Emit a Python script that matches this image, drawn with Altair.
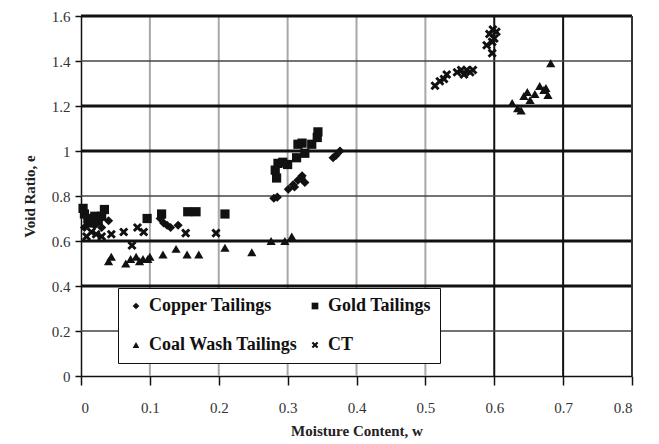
import altair as alt
import pandas as pd

# ---------------- data ----------------
copper_w = [0.005, 0.01, 0.015, 0.02, 0.025, 0.03, 0.04, 0.115, 0.12, 0.125, 0.13, 0.141,
            0.28, 0.285, 0.301, 0.308, 0.31, 0.315, 0.32, 0.321, 0.325, 0.366, 0.37, 0.376]
copper_e = [0.66, 0.68, 0.70, 0.67, 0.69, 0.66, 0.69, 0.70, 0.68, 0.67, 0.66, 0.67,
            0.79, 0.795, 0.83, 0.85, 0.84, 0.87, 0.88, 0.89, 0.86, 0.97, 0.98, 1.0]

gold_w = [0.003, 0.005, 0.01, 0.015, 0.02, 0.025, 0.03, 0.034, 0.096, 0.117, 0.155, 0.167, 0.209,
          0.282, 0.284, 0.286, 0.293, 0.30, 0.313, 0.315, 0.321, 0.325, 0.335, 0.343, 0.344]
gold_e = [0.745, 0.72, 0.70, 0.68, 0.71, 0.69, 0.71, 0.74, 0.70, 0.72, 0.73, 0.73, 0.72,
          0.915, 0.88, 0.945, 0.95, 0.94, 0.97, 1.03, 1.035, 0.99, 1.03, 1.06, 1.085]

coal_w = [0.04, 0.044, 0.065, 0.072, 0.08, 0.085, 0.09, 0.097, 0.10, 0.119, 0.138, 0.154, 0.171,
          0.209, 0.248, 0.276, 0.296, 0.306,
          0.626, 0.634, 0.639, 0.643, 0.648, 0.652, 0.659, 0.666, 0.672, 0.675, 0.678, 0.682]
coal_e = [0.51, 0.53, 0.50, 0.52, 0.53, 0.51, 0.52, 0.52, 0.53, 0.54, 0.565, 0.54, 0.54,
          0.57, 0.55, 0.60, 0.60, 0.62,
          1.213, 1.19, 1.18, 1.244, 1.262, 1.227, 1.253, 1.289, 1.271, 1.28, 1.249, 1.39]

ct_w = [0.008, 0.015, 0.022, 0.03, 0.044, 0.062, 0.074, 0.082, 0.091, 0.152, 0.196,
        0.514, 0.521, 0.527, 0.531, 0.546, 0.552, 0.556, 0.56, 0.565, 0.569,
        0.589, 0.593, 0.597, 0.597, 0.598, 0.60, 0.603]
ct_e = [0.62, 0.64, 0.63, 0.62, 0.63, 0.64, 0.58, 0.66, 0.64, 0.635, 0.635,
        1.29, 1.31, 1.32, 1.34, 1.35, 1.36, 1.34, 1.36, 1.35, 1.36,
        1.47, 1.52, 1.485, 1.435, 1.54, 1.50, 1.53]

# legend is filled column by column: Copper / Coal Wash in column 1, Gold / CT in column 2
series_names = ["Copper Tailings", "Coal Wash Tailings", "Gold Tailings", "CT"]
series_shapes = ["diamond", "triangle-up", "square",
                 "M-1,-0.55L-0.55,-1L0,-0.45L0.55,-1L1,-0.55L0.45,0L1,0.55L0.55,1L0,0.45L-0.55,1L-1,0.55L-0.45,0Z"]

x_ticks = [0, 0.1, 0.2, 0.3, 0.4, 0.5, 0.6, 0.7, 0.8]
y_ticks = [0, 0.2, 0.4, 0.6, 0.8, 1.0, 1.2, 1.4, 1.6]

vgrid_gray = [0.1, 0.2, 0.3, 0.4, 0.5]
vgrid_black = [0.6, 0.7]
hgrid_thick = [0.4, 0.6, 1.0, 1.2]
hgrid_thin = [0.2, 0.8, 1.4]
top_border = [1.6]
right_border = [0.8]

# ---------------- tables ----------------
rows = []
for name, ws, es in zip(["Copper Tailings", "Gold Tailings", "Coal Wash Tailings", "CT"],
                        [copper_w, gold_w, coal_w, ct_w],
                        [copper_e, gold_e, coal_e, ct_e]):
    for w, e in zip(ws, es):
        rows.append({"w": w, "e": e, "series": name})
pts = pd.DataFrame(rows)

SERIF = "Liberation Serif"
xs = alt.Scale(domain=[0, 0.8], nice=False, zero=False)
ys = alt.Scale(domain=[0, 1.6], nice=False, zero=False)

x_axis = alt.Axis(values=x_ticks, format="~g", grid=False, title="Moisture Content, w",
                  labelFont=SERIF, labelFontSize=15, labelColor="#333333",
                  tickColor="#111111", tickSize=9, tickWidth=1.5,
                  domainColor="#111111", domainWidth=1.5, labelPadding=15,
                  titleFont=SERIF, titleFontSize=15, titleFontWeight="bold",
                  titleColor="#222222", titlePadding=8)
y_axis = alt.Axis(values=y_ticks, format="~g", grid=False, title="Void Ratio, e",
                  labelFont=SERIF, labelFontSize=15, labelColor="#333333",
                  tickColor="#111111", tickSize=6, tickWidth=1.5,
                  domainColor="#111111", domainWidth=1.5, labelPadding=5,
                  titleFont=SERIF, titleFontSize=15, titleFontWeight="bold",
                  titleColor="#222222", titlePadding=14)


def vrules(vals, color, width):
    return alt.Chart(pd.DataFrame({"w": vals})).mark_rule(color=color, strokeWidth=width).encode(
        x=alt.X("w:Q", scale=xs, axis=x_axis))


def hrules(vals, color, width):
    return alt.Chart(pd.DataFrame({"e": vals})).mark_rule(color=color, strokeWidth=width).encode(
        y=alt.Y("e:Q", scale=ys, axis=y_axis))


points = alt.Chart(pts).mark_point(filled=True, color="#111111", opacity=1, size=85, strokeWidth=0).encode(
    x=alt.X("w:Q", scale=xs, axis=x_axis),
    y=alt.Y("e:Q", scale=ys, axis=y_axis),
    shape=alt.Shape("series:N",
                    scale=alt.Scale(domain=series_names, range=series_shapes),
                    legend=alt.Legend(title=None, orient="none", legendX=37, legendY=272,
                                      columns=2, columnPadding=8, rowPadding=21,
                                      padding=9, fillColor="white", strokeColor="#111111",
                                      labelFont=SERIF, labelFontSize=18, labelFontWeight="bold",
                                      labelColor="#111111", labelLimit=400, symbolSize=45,
                                      symbolFillColor="#111111", symbolStrokeWidth=0,
                                      labelOffset=4)),
)

chart = alt.layer(
    vrules(vgrid_gray, "#a8a8a8", 2),
    vrules(vgrid_black, "#111111", 2),
    hrules(hgrid_thin, "#444444", 1.6),
    hrules(hgrid_thick, "#111111", 3),
    hrules(top_border, "#111111", 3),
    vrules(right_border, "#333333", 2),
    points,
).properties(
    width=551, height=360,
    autosize=alt.AutoSizeParams(type="none"),
    padding={"left": 81, "top": 16, "right": 27, "bottom": 68},
).configure_view(stroke=None).configure(background="white")

chart.save("out.html", embed_options={"renderer": "svg", "actions": False})
